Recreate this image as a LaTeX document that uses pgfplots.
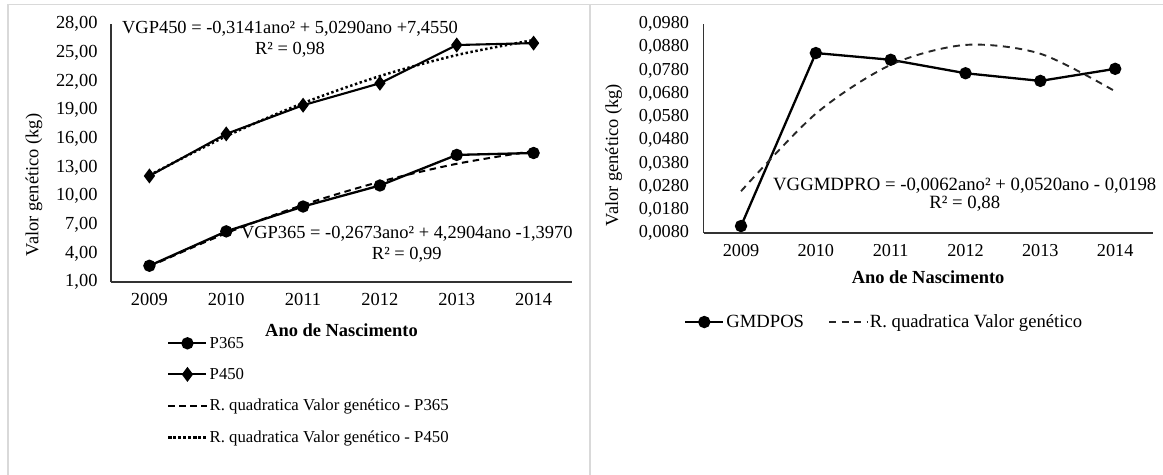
\documentclass[border=0pt]{standalone}
\usepackage{pgfplots}
\pgfplotsset{compat=1.18}
\usepackage{fontspec}
\setmainfont{Liberation Serif}

\pgfplotsset{
  excel/.style={
    scale only axis,
    axis x line=bottom, axis y line=left,
    axis line style={-, line width=1.1bp, black!80},
    major tick length=0pt,
    xmin=2008.5, xmax=2014.5,
    xtick={2009,2010,2011,2012,2013,2014},
    xticklabels={2009,2010,2011,2012,2013,2014},
    tick label style={font=\fontsize{18.5}{20}\selectfont},
    /pgf/number format/assume math mode=true,
    scaled y ticks=false,
    xticklabel style={yshift=-8bp},
    yticklabel style={xshift=-10bp},
    label style={font=\fontsize{18.5}{20}\selectfont},
    xlabel style={font=\fontsize{18.5}{20}\selectfont\bfseries, anchor=center},
    ylabel style={anchor=center},
    legend style={draw=none, fill=none, font=\fontsize{16.8}{18}\selectfont},
    legend cell align=left,
    legend image code/.code={
      \draw[mark repeat=2, mark phase=2, #1] plot coordinates {(0bp,0bp) (19bp,0bp) (38bp,0bp)};},
    clip=false,
  },
}

\begin{document}
\begin{tikzpicture}
\path[use as bounding box] (0,0) rectangle (1163bp,-475bp);
% panel frames
\draw[black!15, line width=1.2bp] (8bp,-475bp) -- (8bp,-4.5bp) -- (1163bp,-4.5bp);
\draw[black!15, line width=1.2bp] (590bp,-4.5bp) -- (590bp,-475bp);

% left chart
\begin{axis}[excel,
  at={(111bp,-282bp)}, anchor=south west,
  width=461bp, height=258bp,
  ymin=1, ymax=28,
  ytick={1,4,7,10,13,16,19,22,25,28},
  yticklabel style={/pgf/number format/fixed, /pgf/number format/fixed zerofill,
    /pgf/number format/precision=2, /pgf/number format/use comma},
  xlabel={Ano de Nascimento},
  xlabel style={at={(axis description cs:0.5,-0.186)}},
  ylabel={Valor genético (kg)},
  ylabel style={at={(axis description cs:-0.167,0.376)}},
  legend style={at={(axis description cs:0.115,-0.197)}, anchor=north west,
    row sep=14.5bp},
]
\addplot[black, line width=2.3bp, mark=*, mark size=5bp, mark options={solid}]
  coordinates {(2009,2.7) (2010,6.3) (2011,8.9) (2012,11.1) (2013,14.3) (2014,14.5)};
\addplot[black, line width=2.1bp, mark=diamond*, mark size=5.8bp, mark options={solid}]
  coordinates {(2009,12.1) (2010,16.5) (2011,19.5) (2012,21.8) (2013,25.8) (2014,26.0)};
\addplot[black, line width=2bp, dash pattern=on 6.5bp off 4.5bp, smooth]
  coordinates {(2009,2.63) (2010,6.11) (2011,9.07) (2012,11.49) (2013,13.37) (2014,14.72)};
\addplot[black, line width=2.5bp, dash pattern=on 2.4bp off 2.6bp, smooth]
  coordinates {(2009,12.17) (2010,16.26) (2011,19.72) (2012,22.55) (2013,24.75) (2014,26.32)};
\legend{P365, P450, R. quadratica Valor genético - P365, R. quadratica Valor genético - P450}
\node[align=center, font=\fontsize{18.5}{22}\selectfont] at (axis cs:2010.83,26.4)
  {VGP450 = -0,3141ano² + 5,0290ano +7,4550\\R² = 0,98};
\node[align=center, font=\fontsize{18.5}{21}\selectfont] at (axis cs:2012.35,4.95)
  {VGP365 = -0,2673ano² + 4,2904ano -1,3970\\R² = 0,99};
\end{axis}

% right chart
\begin{axis}[excel,
  at={(703.6bp,-233bp)}, anchor=south west,
  width=449bp, height=209bp,
  ymin=0.008, ymax=0.098,
  ytick={0.008,0.018,0.028,0.038,0.048,0.058,0.068,0.078,0.088,0.098},
  yticklabel style={/pgf/number format/fixed, /pgf/number format/fixed zerofill,
    /pgf/number format/precision=4, /pgf/number format/use comma, xshift=-1bp},
  tick label style={font=\fontsize{18.3}{19}\selectfont},
  xlabel={Ano de Nascimento},
  xlabel style={at={(axis description cs:0.5,-0.211)}},
  ylabel={Valor genético (kg)},
  ylabel style={at={(axis description cs:-0.2,0.373)}},
  legend columns=2,
  legend style={at={(axis description cs:0.402,-0.426)}, anchor=center,
    font=\fontsize{18.7}{19}\selectfont,
    /tikz/every even column/.append style={column sep=22bp}},
]
\addplot[black, line width=2.3bp, mark=*, mark size=5bp, mark options={solid}]
  coordinates {(2009,0.0110) (2010,0.0855) (2011,0.0826) (2012,0.0768) (2013,0.0735) (2014,0.0787)};
\addplot[black!85, line width=1.9bp, dash pattern=on 7bp off 5.5bp, smooth]
  coordinates {(2009,0.0260) (2010,0.0594) (2011,0.0804) (2012,0.0890) (2013,0.0852) (2014,0.0690)};
\legend{GMDPOS, R. quadratica Valor genético}
\node[align=center, font=\fontsize{18.8}{18}\selectfont] at (axis cs:2011.99,0.0243)
  {VGGMDPRO = -0,0062ano² + 0,0520ano - 0,0198\\R² = 0,88};
\end{axis}
\end{tikzpicture}
\end{document}
